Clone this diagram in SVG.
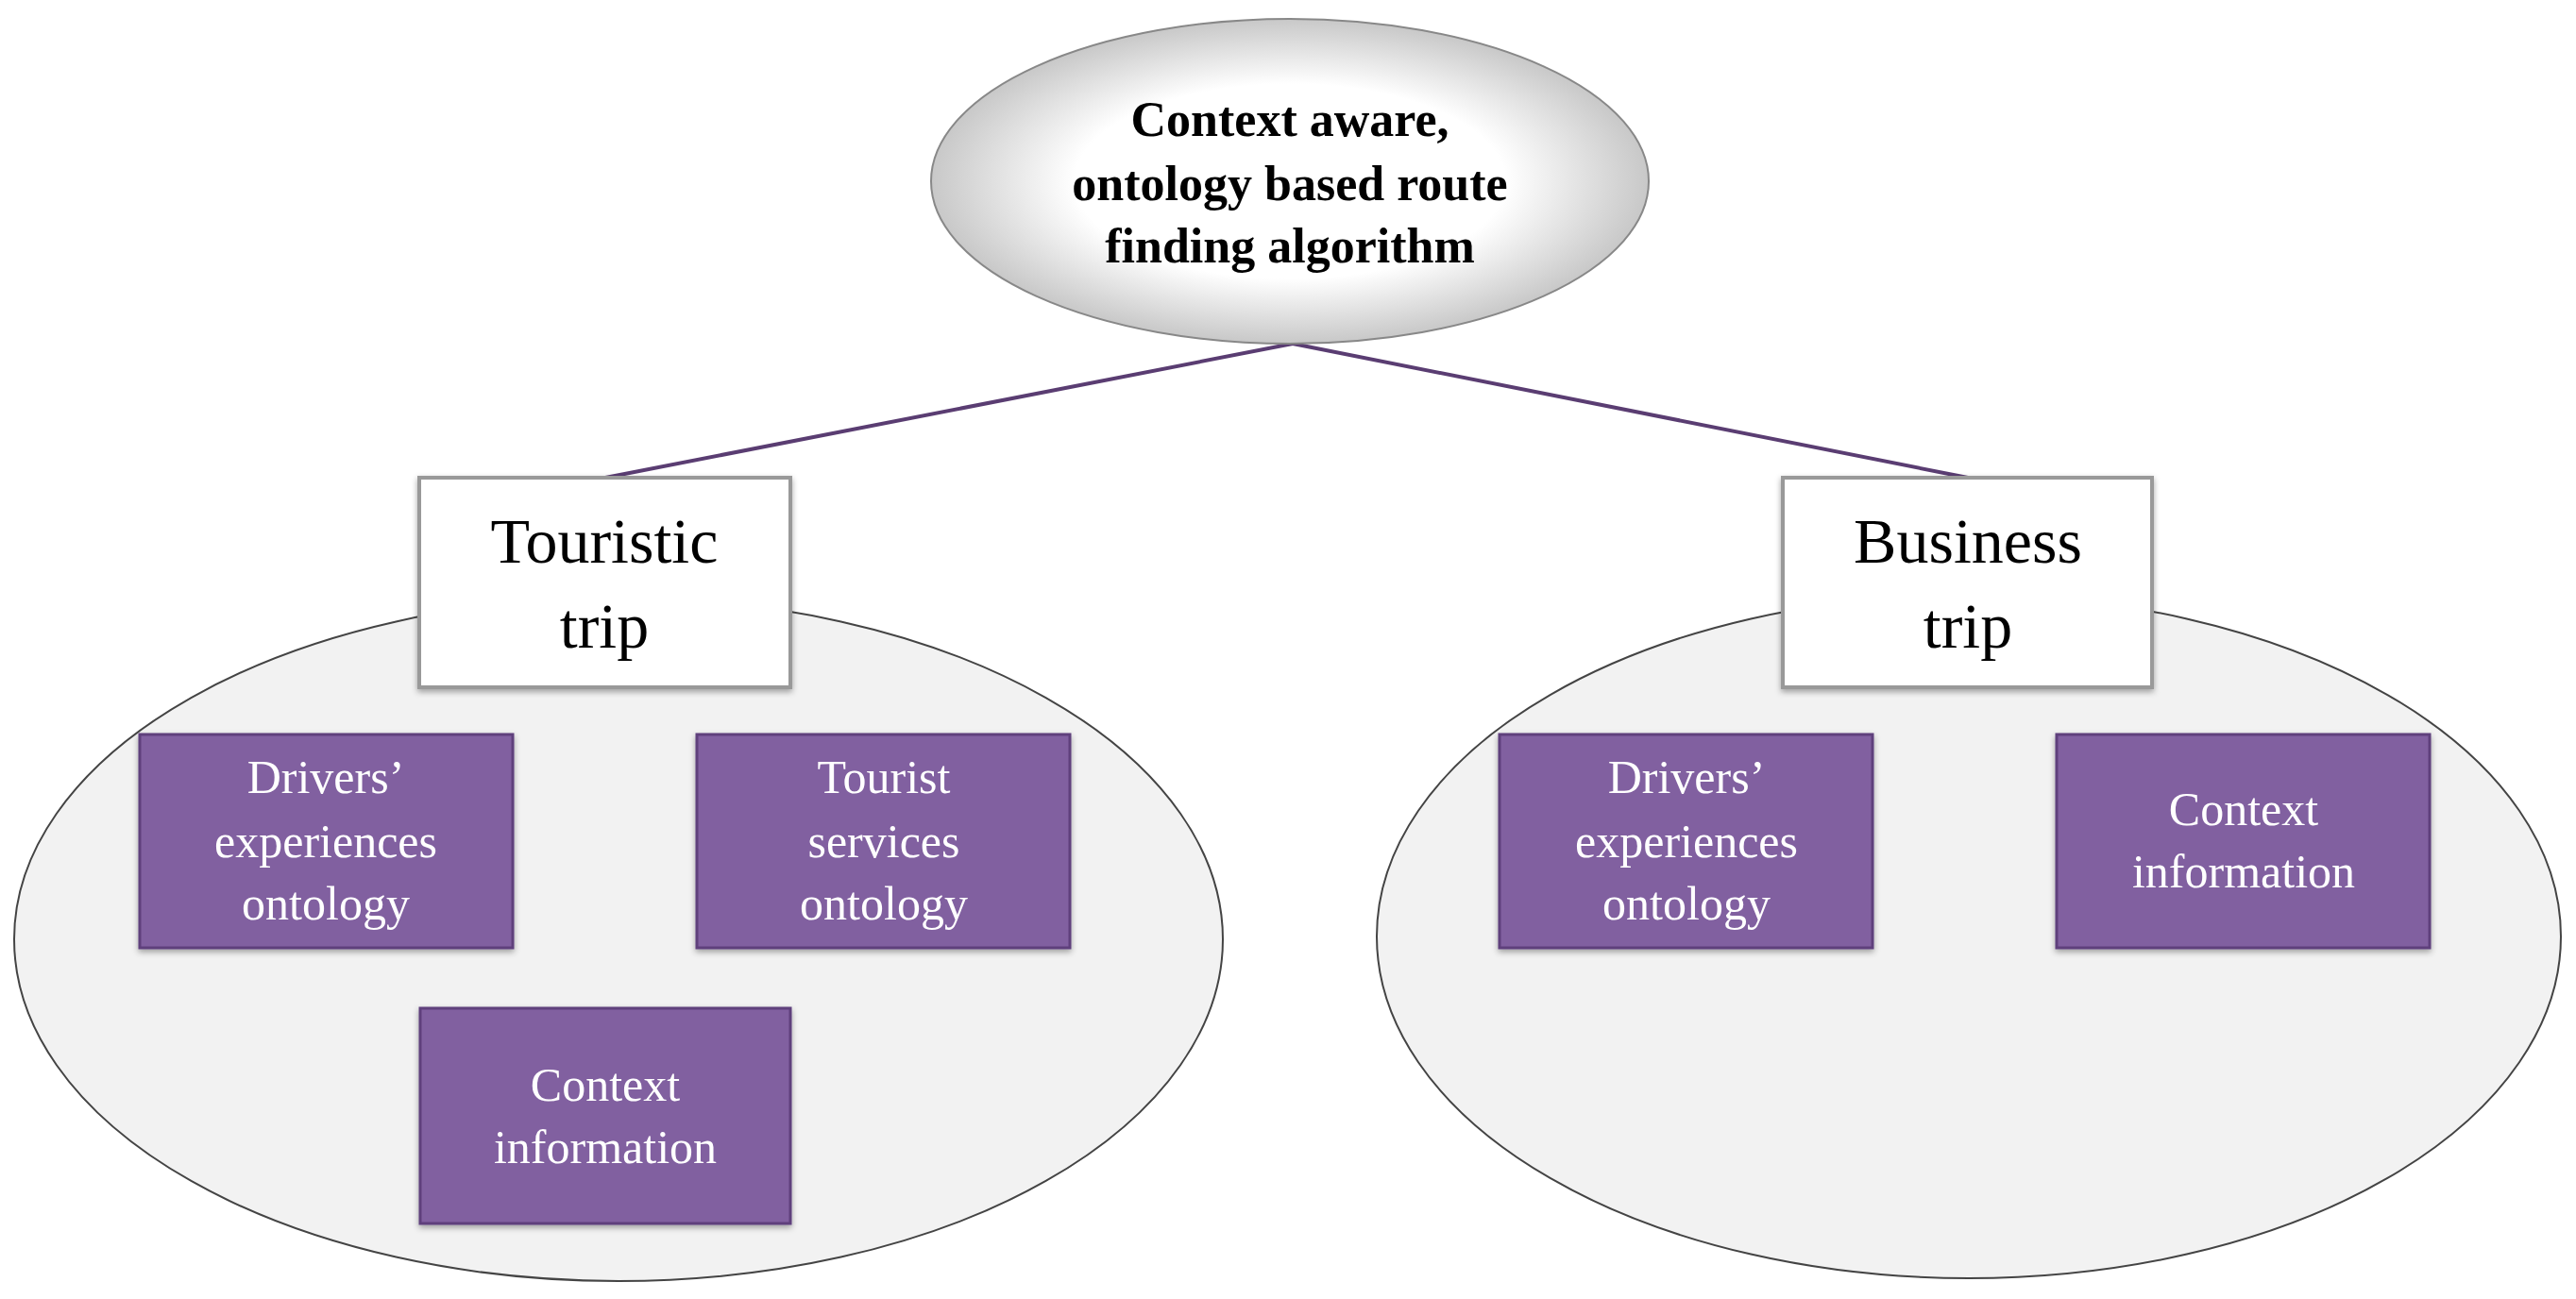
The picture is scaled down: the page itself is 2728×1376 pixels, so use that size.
<svg xmlns="http://www.w3.org/2000/svg" width="2728" height="1376" viewBox="0 0 2728 1376">
<style>
.grp{fill:#f2f2f2;stroke:#444;stroke-width:2}
.pb{fill:#8160a0;stroke:#5e3f7c;stroke-width:3}
.wb{fill:#fff;stroke:#999;stroke-width:4}
.pt{font-family:"Liberation Serif",serif;font-size:50px;fill:#fff;text-anchor:middle}
.tt{font-family:"Liberation Serif",serif;font-size:68px;fill:#000;text-anchor:middle}
.ht{font-family:"Liberation Serif",serif;font-size:52px;font-weight:bold;fill:#000;text-anchor:middle}
.con{stroke:#5a3d72;stroke-width:4;fill:none}
</style>
<defs>
<radialGradient id="rg" cx="0.5" cy="0.5" r="0.5">
<stop offset="0.6" stop-color="#ffffff"/><stop offset="1" stop-color="#c8c8c8"/>
</radialGradient>
<filter id="sh" x="-10%" y="-10%" width="120%" height="130%"><feDropShadow dx="0" dy="3" stdDeviation="3" flood-opacity="0.35"/></filter>
</defs>
<g id="left-group"><ellipse class="grp" cx="655" cy="995" rx="640" ry="362"/></g>
<g id="right-group"><ellipse class="grp" cx="2085" cy="992" rx="627" ry="362"/></g>
<g id="connectors">
<line class="con" x1="1369" y1="364" x2="641" y2="506"/>
<line class="con" x1="1369" y1="364" x2="2084" y2="506"/>
</g>
<g id="root"><ellipse cx="1366" cy="192" rx="380" ry="172" fill="url(#rg)" stroke="#888" stroke-width="2"/>
<text class="ht"><tspan x="1366" y="144">Context aware,</tspan><tspan x="1366" y="212">ontology based route</tspan><tspan x="1366" y="278">finding algorithm</tspan></text></g>
<g id="touristic"><rect class="wb" x="444" y="506" width="393" height="222" filter="url(#sh)"/>
<text class="tt"><tspan x="640" y="596">Touristic</tspan><tspan x="640" y="686">trip</tspan></text></g>
<g id="business"><rect class="wb" x="1888" y="506" width="391" height="222" filter="url(#sh)"/>
<text class="tt"><tspan x="2084" y="596">Business</tspan><tspan x="2084" y="686">trip</tspan></text></g>
<g id="l-drivers"><rect class="pb" x="148" y="778" width="395" height="226" filter="url(#sh)"/>
<text class="pt"><tspan x="345" y="840">Drivers’</tspan><tspan x="345" y="908">experiences</tspan><tspan x="345" y="974">ontology</tspan></text></g>
<g id="l-tourist"><rect class="pb" x="738" y="778" width="395" height="226" filter="url(#sh)"/>
<text class="pt"><tspan x="936" y="840">Tourist</tspan><tspan x="936" y="908">services</tspan><tspan x="936" y="974">ontology</tspan></text></g>
<g id="l-context"><rect class="pb" x="445" y="1068" width="392" height="228" filter="url(#sh)"/>
<text class="pt"><tspan x="641" y="1166">Context</tspan><tspan x="641" y="1232">information</tspan></text></g>
<g id="r-drivers"><rect class="pb" x="1588" y="778" width="395" height="226" filter="url(#sh)"/>
<text class="pt"><tspan x="1786" y="840">Drivers’</tspan><tspan x="1786" y="908">experiences</tspan><tspan x="1786" y="974">ontology</tspan></text></g>
<g id="r-context"><rect class="pb" x="2178" y="778" width="395" height="226" filter="url(#sh)"/>
<text class="pt"><tspan x="2376" y="874">Context</tspan><tspan x="2376" y="940">information</tspan></text></g>
</svg>
